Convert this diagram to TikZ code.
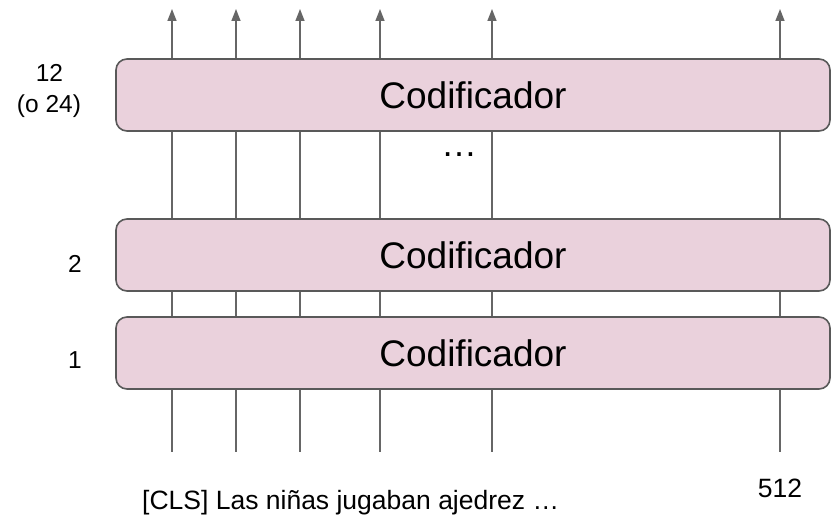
\documentclass[tikz,border=0pt]{standalone}
\usepackage{fontspec}
\setmainfont{Liberation Sans}
\usetikzlibrary{arrows.meta}
\definecolor{encfill}{HTML}{EAD1DC}
\definecolor{encdraw}{HTML}{595959}
\definecolor{wire}{HTML}{666666}
\begin{document}
\begin{tikzpicture}[x=1pt,y=-1pt,
  encoder/.style={draw=encdraw,fill=encfill,line width=1.6pt,rounded corners=11pt,
    minimum width=714pt,minimum height=72pt,inner sep=0pt,
    font=\fontsize{37}{42}\selectfont},
  wirestyle/.style={draw=wire,line width=1.5pt},
  uparrow/.style={wirestyle,-{Triangle[length=12pt,width=9pt]}},
  layerlabel/.style={font=\fontsize{24.5}{30}\selectfont,anchor=base,inner sep=0pt},
  bigtext/.style={font=\fontsize{26.5}{32}\selectfont,inner sep=0pt}]
\useasboundingbox (0,0) rectangle (831,518);

% column positions: bottom ends and arrow tips
\foreach \n/\x in {1/172,2/236,3/300,4/380,5/492,6/780}{
  \coordinate (in\n) at (\x,452);
  \coordinate (out\n) at (\x,9);
}

% wires between and around the encoder blocks
\foreach \n in {1,...,6}{
  \draw[wirestyle] (in\n) -- (in\n |- 0,389);
  \draw[wirestyle] (in\n |- 0,317) -- (in\n |- 0,291);
  \draw[wirestyle] (in\n |- 0,219) -- (in\n |- 0,131);
  \draw[uparrow] (in\n |- 0,59) -- (out\n);
}

% encoder stack
\node[encoder] (enc1) at (473,353) {Codificador};
\node[encoder] (enc2) at (473,255) {Codificador};
\node[encoder] (enc3) at (473,95) {Codificador};

\node[font=\fontsize{36}{40}\selectfont,anchor=base,inner sep=0pt] (dots) at (459,157) {…};

% layer numbers
\node[layerlabel] (l3a) at (49.5,82) {12};
\node[layerlabel] (l3b) at (49,113) {(o 24)};
\node[layerlabel] (l2) at (75,273) {2};
\node[layerlabel] (l1) at (75,369) {1};

% input tokens
\node[bigtext,anchor=base west] (tokens) at (142,510) {[CLS] Las niñas jugaban ajedrez …};
\node[bigtext,anchor=base] (len) at (780,498) {512};
\end{tikzpicture}
\end{document}
